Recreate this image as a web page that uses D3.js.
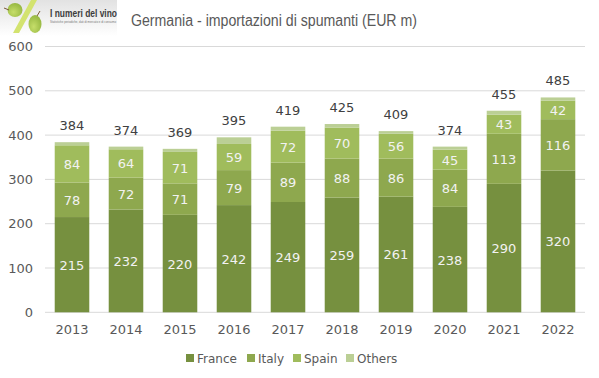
<!DOCTYPE html>
<html>
<head>
<meta charset="utf-8">
<script src="https://cdn.jsdelivr.net/npm/d3@7"></script>
<style>
    html, body { margin: 0; padding: 0; background: #fff; }
    text { font-family: "DejaVu Sans", sans-serif; }
</style>
</head>
<body>
<div id="chart_area"></div>
<script>
var years = ["2013", "2014", "2015", "2016", "2017", "2018", "2019", "2020", "2021", "2022"];
var france = [215, 232, 220, 242, 249, 259, 261, 238, 290, 320];
var italy = [78, 72, 71, 79, 89, 88, 86, 84, 113, 116];
var spain = [84, 64, 71, 59, 72, 70, 56, 45, 43, 42];
var others = [7, 6, 7, 15, 9, 8, 6, 7, 9, 7];
var totals = [384, 374, 369, 395, 419, 425, 409, 374, 455, 485];
var yTicks = [0, 100, 200, 300, 400, 500, 600];
var seriesNames = ["France", "Italy", "Spain", "Others"];
var seriesColours = ["#76903f", "#8ea84e", "#a0bc5c", "#bbcf95"];

var table = years.map(function (y, i) {
    return { year: y, France: france[i], Italy: italy[i], Spain: spain[i], Others: others[i] };
});

var svg = d3.select("#chart_area")
    .append("svg")
    .attr("width", 599)
    .attr("height", 378)
    .style("display", "block");

// logo, roughly redrawn
var defs = svg.append("defs");
var logoFade = defs.append("linearGradient").attr("id", "logoFade")
    .attr("x1", 0).attr("y1", 0).attr("x2", 0).attr("y2", 1);
logoFade.append("stop").attr("offset", "0").attr("stop-color", "#e2e2e2");
logoFade.append("stop").attr("offset", "1").attr("stop-color", "#ffffff");
var grape = defs.append("radialGradient").attr("id", "grape")
    .attr("cx", 0.4).attr("cy", 0.65).attr("r", 0.7);
grape.append("stop").attr("offset", "0").attr("stop-color", "#c6de6a");
grape.append("stop").attr("offset", "1").attr("stop-color", "#93b53f");

var logo = svg.append("g");
logo.append("rect").attr("width", 117).attr("height", 36).attr("fill", "url(#logoFade)");
logo.append("path").attr("d", "M31 0L37 0L19 33L13 33Z").attr("fill", "#d3e36f");
logo.append("ellipse").attr("cx", 15).attr("cy", 10).attr("rx", 7.5).attr("ry", 7).attr("fill", "url(#grape)");
logo.append("ellipse").attr("cx", 35).attr("cy", 24).attr("rx", 6.5).attr("ry", 9).attr("fill", "url(#grape)");
logo.append("path").attr("d", "M4 8L9 10M37 16L40 11").attr("stroke", "#7a5a3a").attr("stroke-width", 1).attr("fill", "none");
logo.append("text").attr("x", 50).attr("y", 17)
    .attr("textLength", 67).attr("lengthAdjust", "spacingAndGlyphs")
    .style("font-family", "'Liberation Sans', sans-serif")
    .style("font-size", "10.5px").style("font-weight", "bold").attr("fill", "#3c3c3c")
    .text("I numeri del vino");
logo.append("text").attr("x", 50).attr("y", 23)
    .attr("textLength", 66).attr("lengthAdjust", "spacingAndGlyphs")
    .style("font-family", "'Liberation Sans', sans-serif")
    .style("font-size", "3px").attr("fill", "#777")
    .text("Statistiche periodiche, dati di mercato e di consumo");

// title
svg.append("text").attr("x", 131).attr("y", 26)
    .attr("textLength", 286).attr("lengthAdjust", "spacingAndGlyphs")
    .style("font-family", "'Liberation Sans', sans-serif")
    .style("font-size", "16px").attr("fill", "#595959")
    .text("Germania - importazioni di spumanti (EUR m)");

var x = d3.scaleBand().domain(years).range([45, 585]).paddingInner(0.36).paddingOuter(0.18);
var y = d3.scaleLinear().domain([0, 600]).range([312.3, 46.5]);

// grid
svg.append("g").selectAll("line")
    .data(yTicks)
    .enter()
    .append("line")
    .attr("x1", 45).attr("x2", 585)
    .attr("y1", function (d) { return y(d); })
    .attr("y2", function (d) { return y(d); })
    .attr("stroke", "#d9d9d9").attr("stroke-width", 1);

// y axis labels
var yAxis = svg.append("g")
    .attr("transform", "translate(33,0)")
    .call(d3.axisLeft(y).tickValues(yTicks).tickSize(0).tickPadding(0));
yAxis.select(".domain").remove();
yAxis.selectAll("text").style("font-size", "13px").attr("fill", "#595959")
    .style("font-family", "'DejaVu Sans', sans-serif");

// x axis labels
var xAxis = svg.append("g")
    .attr("transform", "translate(0,325)")
    .call(d3.axisBottom(x).tickSize(0).tickPadding(0));
xAxis.select(".domain").remove();
xAxis.selectAll("text").style("font-size", "13px").attr("fill", "#595959")
    .style("font-family", "'DejaVu Sans', sans-serif");

// bars
var stacked = d3.stack().keys(seriesNames)(table);
var layers = svg.append("g").selectAll("g")
    .data(stacked)
    .enter()
    .append("g")
    .attr("fill", function (d, i) { return seriesColours[i]; });

layers.selectAll("rect")
    .data(function (d) { return d; })
    .enter()
    .append("rect")
    .attr("x", function (d) { return x(d.data.year); })
    .attr("y", function (d) { return y(d[1]); })
    .attr("width", x.bandwidth())
    .attr("height", function (d) { return y(d[0]) - y(d[1]); });

// value labels, not for Others
layers.filter(function (d) { return d.key !== "Others"; })
    .selectAll("text")
    .data(function (d) { return d; })
    .enter()
    .append("text")
    .attr("x", function (d) { return x(d.data.year) + x.bandwidth() / 2; })
    .attr("y", function (d) { return y((d[0] + d[1]) / 2) + 5; })
    .attr("text-anchor", "middle")
    .attr("fill", "#f2f2f2")
    .style("font-size", "13px")
    .text(function (d) { return d[1] - d[0]; });

// totals
svg.append("g").selectAll("text")
    .data(totals)
    .enter()
    .append("text")
    .attr("x", function (d, i) { return x(years[i]) + x.bandwidth() / 2; })
    .attr("y", function (d) { return y(d) - 12; })
    .attr("text-anchor", "middle")
    .attr("fill", "#404040")
    .style("font-size", "13px")
    .text(function (d) { return d; });

// legend
var legendX = [186, 247, 293, 346];
var legend = svg.append("g").selectAll("g")
    .data(seriesNames)
    .enter()
    .append("g")
    .attr("transform", function (d, i) { return "translate(" + legendX[i] + ",358)"; });
legend.append("rect").attr("y", -4).attr("width", 8).attr("height", 8)
    .attr("fill", function (d, i) { return seriesColours[i]; });
legend.append("text").attr("x", 11).attr("y", 4.5)
    .attr("fill", "#595959")
    .style("font-size", "12px")
    .text(function (d) { return d; });
</script>
</body>
</html>
